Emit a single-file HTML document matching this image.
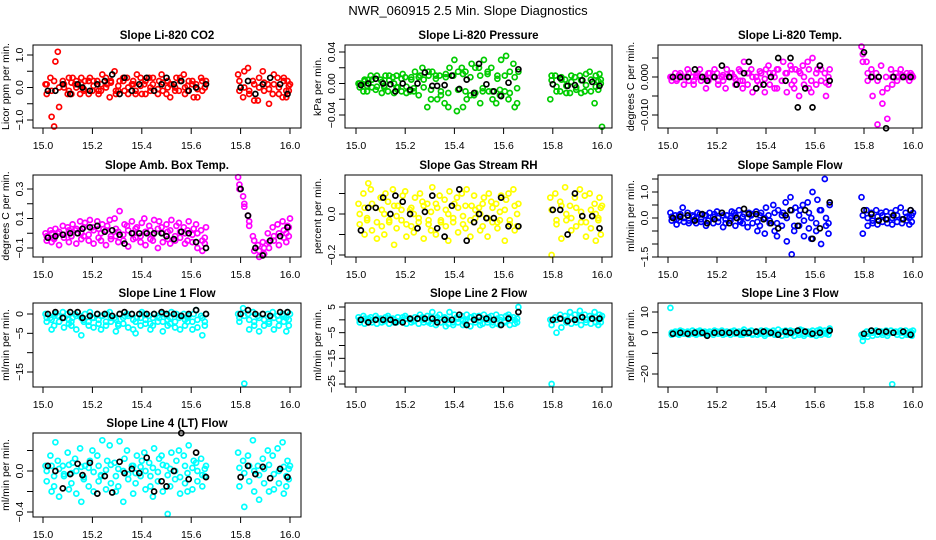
<!DOCTYPE html>
<html><head><meta charset="utf-8"><style>
html,body{margin:0;padding:0;background:#fff;}
svg{display:block;font-family:"Liberation Sans",sans-serif;}
</style></head><body>
<svg id="chart" width="936" height="540" viewBox="0 0 936 540" xmlns="http://www.w3.org/2000/svg">
<rect x="0" y="0" width="936" height="540" fill="#fff"/>
<text x="468" y="15" font-size="13" text-anchor="middle">NWR_060915  2.5 Min. Slope Diagnostics</text>
</svg>
<script>
const colorTimes=[15.01,15.03,15.05,15.06,15.08,15.10,15.12,15.13,15.15,15.17,15.19,15.20,15.22,15.24,15.26,15.27,15.29,15.31,15.33,15.34,15.36,15.38,15.40,15.41,15.43,15.45,15.47,15.48,15.50,15.52,15.54,15.55,15.57,15.59,15.61,15.62,15.64,15.66,15.79,15.81,15.83,15.85,15.87,15.89,15.91,15.93,15.95,15.97,15.99,16.0];
const colorTimes2=[15.015,15.035,15.045,15.065,15.085,15.105,15.115,15.135,15.155,15.165,15.185,15.205,15.225,15.235,15.255,15.275,15.295,15.305,15.325,15.345,15.365,15.375,15.395,15.415,15.435,15.445,15.465,15.485,15.505,15.515,15.535,15.555,15.575,15.585,15.605,15.625,15.645,15.655,15.795,15.815,15.835,15.855,15.875,15.895,15.915,15.935,15.955,15.975,15.985,15.995];
const blackTimes=[15.02,15.05,15.08,15.11,15.14,15.16,15.19,15.22,15.25,15.28,15.31,15.33,15.36,15.39,15.42,15.45,15.48,15.50,15.53,15.56,15.59,15.62,15.66,15.80,15.83,15.86,15.89,15.92,15.96,15.99];
const xTicks=[15.0,15.2,15.4,15.6,15.8,16.0];
const xTickLabels=["15.0","15.2","15.4","15.6","15.8","16.0"];

const co2A=[0.1,0.3,0.8,1.1,0.2,-0.2,0.3,0.1,-0.2,0.2,0.3,-0.1,0.2,0.4,0.1,-0.3,0.5,0.2,-0.1,0.3,0.1,0.4,-0.2,0.1,0.3,-0.1,0.2,0.4,-0.2,0.1,0.3,-0.1,0.4,0.2,-0.3,0.1,0.3,0.2,0.4,-0.3,0.6,0.2,-0.4,0.5,0.1,-0.2,0.3,-0.3,0.2,0.1];
const co2B=[-0.2,-0.9,-1.2,-0.6,0.0,0.3,-0.2,0.2,0.3,-0.1,-0.2,0.2,-0.2,-0.1,0.3,0.2,-0.2,-0.1,0.3,-0.2,0.2,-0.2,0.3,-0.2,-0.1,0.3,-0.2,-0.1,0.2,-0.3,0.0,0.3,-0.2,-0.1,0.2,-0.3,-0.1,0.0,-0.1,0.5,-0.2,-0.4,0.3,-0.1,-0.5,0.4,-0.2,0.3,-0.3,-0.1];
const co2C=[0.1,-0.1,0.2,0,0.1,-0.1,0.15,0,0.1,-0.05,0.2,0.05,-0.1,0.1,0,0.15,-0.1,0.05,0.2,0,0.1,-0.1,0.05,0.2,0,0.1,-0.05,0.15,0,0.1,-0.1,0.2,0,0.05,0.1,-0.05,0.2,0,0.2,0,-0.1,0.1,0,0.15,-0.05,0.1,0,0.2,-0.1,0.05];
const co2K=[-0.1,-0.1,0.1,-0.2,0.1,0.0,-0.1,0.1,0.2,0.4,-0.2,0.3,-0.1,0.1,0.3,-0.1,0.1,0.3,0.1,0.2,-0.1,0.0,0.1,0.0,0.2,-0.2,0.1,0.3,0.1,-0.2];

const presA=[0,-0.01,0.005,0.01,-0.008,0.005,0.01,-0.01,0.008,-0.005,0.012,0.008,-0.01,0.015,0.01,0.02,-0.03,0.015,-0.02,0.01,-0.025,0.02,0.03,-0.035,0.02,-0.02,0.025,-0.015,0.02,0.03,-0.01,0.02,-0.025,0.03,0.035,-0.02,0.025,0.015,-0.02,0.01,-0.01,0.005,-0.012,0.008,0.01,-0.01,0.015,-0.025,0.012,-0.055];
const presB=[-0.005,0.005,-0.01,-0.005,0.01,-0.012,-0.005,0.01,-0.012,0.01,-0.01,-0.012,0.008,-0.01,-0.015,0.005,0.015,-0.02,0.01,-0.015,0.012,-0.03,0.01,0.015,-0.03,0.015,-0.015,0.02,-0.025,-0.01,0.015,-0.02,0.01,-0.015,-0.01,0.015,-0.03,-0.025,0.01,-0.01,0.008,-0.012,0.01,-0.008,-0.012,0.012,-0.01,0.01,-0.008,0.005];
const presC=[0,0.003,-0.003,0.005,-0.004,0.002,-0.003,0.004,0,-0.005,0.006,-0.004,0.005,-0.006,0.008,-0.005,0.01,-0.008,0.006,-0.01,0.008,-0.012,0.01,-0.008,0.012,-0.01,0.008,-0.012,0.01,-0.006,0.012,-0.01,0.006,-0.008,0.01,-0.012,0.008,-0.006,0.004,-0.004,0.005,-0.003,0.002,-0.005,0.004,-0.002,0.005,-0.004,0.003,0];
const presK=[-0.002,0,0.006,0,-0.001,-0.01,0,-0.008,0,0.014,-0.003,-0.003,-0.002,0.01,-0.007,0.005,-0.012,0.025,-0.001,-0.01,-0.016,0.001,0.018,-0.001,0.007,-0.003,-0.002,0.004,0.002,-0.003];

const tempA=[0,0.001,0.001,0,0.002,0,0.001,0.002,0,0.001,0.002,0.001,0,0.002,0.001,0,0.002,0.004,0.001,0.002,0,0.001,0.002,0.003,0.001,0.002,0.004,0.001,0.003,0.002,0.001,0.003,0.004,0.005,0.002,0.003,0.001,0.002,0.008,0.004,0.002,0.001,0.003,0,0.002,0.001,0.002,0,0.001,0];
const tempB=[-0.001,-0.001,0,-0.002,-0.001,-0.002,0,-0.001,-0.003,-0.001,0,-0.002,-0.001,-0.003,0,-0.002,-0.001,-0.003,-0.002,-0.004,-0.001,-0.002,-0.004,-0.002,-0.003,-0.003,-0.001,-0.004,-0.002,-0.003,-0.005,-0.002,-0.003,-0.004,-0.002,-0.001,-0.005,-0.002,0.006,-0.001,-0.005,-0.0125,-0.007,-0.011,-0.002,-0.001,0,0.001,-0.001,0];
const tempC=[0,-0.0005,0.0005,0,0.001,-0.001,0.0005,0,-0.0005,0.001,0,-0.001,0.0005,0,0.001,-0.0005,0.0015,-0.001,0.001,0,-0.001,0.0015,-0.0005,0.001,0,0.002,-0.001,0.001,0.002,-0.001,0.0015,0,0.002,-0.001,0.001,0.002,-0.0015,0,0.004,0.001,0,-0.001,-0.004,-0.003,0,0,0.0005,0,0,0.0005];
const tempK=[0,0,0,0.002,0,-0.001,0,0.003,0,-0.002,0.001,0.004,-0.003,-0.002,0,0.005,-0.001,0.005,-0.008,-0.003,-0.008,0.003,-0.001,0.0065,0,0,-0.0135,0,0,0];

const ambA=[0.0,0.02,0.03,0.0,0.05,0.04,0.06,0.02,0.08,0.07,0.09,0.04,0.08,0.06,0.05,0.09,0.1,0.15,0.06,0.05,0.08,0.04,0.07,0.1,0.05,0.09,0.08,0.04,0.06,0.09,0.05,0.07,0.04,0.08,0.03,0.06,0.02,0.04,0.38,0.25,0.12,-0.02,-0.08,-0.06,0.0,0.04,0.06,0.08,0.05,0.1];
const ambB=[-0.05,-0.06,-0.04,-0.08,-0.03,-0.06,-0.02,-0.07,-0.04,-0.02,-0.05,-0.07,-0.03,-0.05,-0.08,-0.04,-0.02,-0.06,-0.05,-0.09,-0.04,-0.03,-0.06,-0.08,-0.04,-0.05,-0.1,-0.06,-0.04,-0.07,-0.05,-0.03,-0.07,-0.05,-0.06,-0.1,-0.12,-0.07,0.3,0.2,0.05,-0.12,-0.16,-0.14,-0.1,-0.05,-0.08,-0.03,-0.06,-0.02];
const ambC=[-0.02,0.0,-0.03,0.01,-0.01,0.02,-0.02,0.03,0.0,0.04,-0.01,0.02,0.03,0.0,0.02,-0.02,0.03,0.01,-0.01,0.02,0.0,0.03,-0.02,0.01,0.02,-0.01,0.03,0.0,0.01,0.02,-0.02,0.01,0.0,0.02,-0.01,0.0,-0.05,-0.03,0.33,0.18,0.08,-0.05,-0.12,-0.1,-0.06,-0.02,0.0,0.02,0.0,0.04];
const ambK=[-0.03,-0.02,-0.01,0.0,0.0,0.03,0.04,0.05,0.01,0.02,-0.01,-0.07,0.0,0.0,0.0,0.0,0.0,-0.02,-0.04,0.01,0.0,-0.06,-0.1,0.3,0.12,-0.1,-0.15,-0.05,-0.02,0.04];

const rhA=[0.05,0.1,0.15,0.12,0.03,0.08,0.1,0.06,0.12,0.04,0.09,0.11,0.02,0.08,0.1,0.06,0.05,0.13,0.03,0.09,0.07,0.11,0.05,0.08,0.1,0.12,0.04,0.09,0.03,0.08,0.1,0.06,0.05,0.09,0.07,0.1,0.12,0.05,0.08,0.1,0.06,0.13,0.04,0.08,0.12,0.09,0.1,0.05,0.08,0.04];
const rhB=[-0.05,-0.1,-0.03,-0.08,-0.12,-0.06,-0.1,-0.04,-0.15,-0.07,-0.03,-0.11,-0.06,-0.09,-0.04,-0.12,-0.05,-0.08,-0.1,-0.03,-0.06,-0.13,-0.04,-0.09,-0.05,-0.07,-0.11,-0.02,-0.08,-0.06,-0.11,-0.04,-0.07,-0.03,-0.13,-0.05,-0.08,-0.06,-0.2,-0.05,-0.12,-0.03,-0.08,-0.06,-0.04,-0.11,-0.07,-0.13,-0.03,-0.1];
const rhC=[0.0,0.03,-0.02,0.05,-0.04,0.02,0.0,-0.03,0.04,-0.01,0.02,-0.05,0.03,0.0,-0.02,0.04,-0.03,0.01,0.05,-0.04,0.02,0.0,-0.02,0.03,-0.01,0.04,-0.03,0.02,0.0,0.05,-0.02,0.03,-0.04,0.01,0.02,-0.03,0.04,0.0,0.02,-0.03,0.04,0.0,-0.02,0.03,0.01,-0.04,0.02,0.0,-0.02,0.03];
const rhK=[-0.08,0.03,0.03,0.08,0.0,0.09,0.06,0.0,-0.07,0.01,0.09,-0.07,-0.11,0.04,0.12,-0.13,-0.04,0.0,-0.02,-0.02,0.08,-0.06,-0.06,0.02,0.02,-0.1,0.1,-0.01,-0.01,-0.07];

const sfA=[0.2,0.1,0.15,0.4,0.2,0.1,0.2,0.15,0.1,0.2,0.15,0.25,0.2,0.1,0.25,0.2,0.3,0.15,0.2,0.1,0.25,0.2,0.4,0.1,0.5,0.3,0.2,0.6,0.8,0.4,0.3,0.5,0.6,1.0,0.7,0.3,1.5,0.5,0.8,0.3,0.2,0.3,0.2,0.25,0.2,0.3,0.4,0.2,0.3,0.2];
const sfB=[-0.1,-0.25,-0.1,-0.15,-0.2,-0.1,-0.2,-0.15,-0.3,-0.1,-0.2,-0.15,-0.35,-0.2,-0.1,-0.3,-0.15,-0.2,-0.35,-0.2,-0.5,-0.3,-0.6,-0.2,-0.5,-0.7,-0.3,-0.9,-1.4,-0.5,-0.3,-0.7,-0.4,-0.8,-0.5,-1.0,-0.3,-0.6,-0.6,-0.3,-0.2,-0.25,-0.15,-0.2,-0.25,-0.15,-0.2,-0.1,-0.25,-0.15];
const sfC=[0.05,-0.05,0.1,0.0,-0.1,0.05,0.0,-0.05,0.1,-0.1,0.05,0.0,0.1,-0.05,0.0,0.1,-0.1,0.05,0.0,0.15,-0.15,0.1,0.0,-0.1,0.2,-0.2,0.1,0.0,0.3,-0.3,0.1,-0.1,0.2,0.0,-0.2,0.3,0.0,-0.2,0.1,0.0,-0.1,0.05,0.1,-0.05,0.0,0.1,-0.05,0.05,0.0,0.1];
const sfK=[0.0,0.05,0.1,-0.1,0.15,-0.2,-0.05,0.2,-0.2,0.0,0.35,0.15,0.15,-0.05,-0.2,-0.4,0.1,0.3,-0.3,0.3,-0.8,-0.4,0.6,0.3,0.15,-0.1,-0.05,0.1,-0.05,0.3];

const l1A=[0,-1,0,-0.5,0.5,0,-1,0,-0.5,0,0.5,-1,0,-0.5,0,0.5,-1,0,-0.5,0,0,-1,0.5,0,-0.5,0,-1,0,-0.5,0.5,0,-1,0,-0.5,0,1,-0.5,0,0,1.5,0,0.5,-0.5,0,0,0.5,-0.5,0,0.5,0];
const l1B=[-2,-4,-3,-2,-3.5,-2.5,-3,-4,-5.5,-2,-3,-3.5,-2.5,-4,-3,-2,-4.5,-3,-2.5,-3.5,-4,-5,-3,-2.5,-4,-3,-2,-4.5,-3,-2.5,-3.5,-4,-3,-2,-4,-3.5,-5.5,-3,-2,-18,-4,-3,-4.5,-3,-2.5,-4,-3,-2,-4.5,-3];
const l1C=[-1,-1.5,-0.5,-2,-1,-1.5,-2,-0.5,-1,-1.5,-2,-1,-1.5,-0.5,-2,-1,-1.5,-2.5,-1,-0.5,-1.5,-2,-1,-1.5,-2.5,-1,-0.5,-2,-1.5,-1,-2,-0.5,-1.5,-1,-2,-1.5,-1,-2,-1,-0.5,-1.5,-2,-1,-1.5,-2,-1,-1.5,-0.5,-1,-1.5];
const l1K=[0,0.5,-1,0.5,0.5,-1,-0.5,0,0,-0.5,0,0.5,0,0,0,0,0.5,0,0,-0.5,0,1,0,0,1,0,0,-0.5,0.5,0.5];

const l2A=[1,1.5,0.5,1,1.5,0.5,1,1.5,0.5,1,1,1.5,0.5,1,2,1,1.5,3,1,2,1,3,2,1,1.5,2,1,1.5,1.5,2,1,1.5,2,1,1.5,2,1,5,0,1,2,1.5,3,2,3.5,2,1.5,3,2,1.5];
const l2B=[-1,-1.5,-0.5,-1,-1.5,-1,-0.5,-1.5,-1,-1,-0.5,-1.5,-1,-0.5,-1.5,-1,-1,-1.5,-2,-1,-2.5,-1.5,-2,-1,-2,-1.5,-2.5,-1,-2,-1.5,-1,-2,-1.5,-2,-1,-2,-1.5,-1,-25,-5,-3,-1,-1.5,-1,-2,-1,-1.5,-1,-2,-1];
const l2C=[0,0.5,-0.5,0,0.5,0,-0.5,0.5,0,-0.5,0,0.5,0,-0.5,0.5,0,-0.5,1,0,-1,0.5,0,-1,0.5,0,-0.5,1,0,-0.5,0.5,0,-1,0.5,0,-0.5,1,0,0.5,-2,0,0.5,0,1,0,1.5,0,0.5,1,0,0.5];
const l2K=[0,-1,0,0,0,-1,-1,0.5,0.5,0.5,0.5,-1,0,0,2,-2,0,1,0.5,0,-2,0.5,3,0,0.5,-0.5,0,1,0.5,0.5];

const l3A=[12,0.5,1,0.5,0.5,1,0.5,1,0.5,0.5,1,0.5,1,0.5,0.5,1,0.5,1.5,0.5,1,0.5,1,1,0.5,1,1.5,0.5,1,1,0.5,1.5,1,0.5,1,1,1.5,1,2,-1,0.5,1,1,0.5,1,1,0.5,1,1,0.5,1];
const l3B=[-1,-0.5,-1,-0.5,-1,-0.5,-1,-0.5,-1,-0.5,-1,-0.5,-1,-0.5,-1,-0.5,-1,-1,-0.5,-1,-1,-0.5,-1.5,-0.5,-1,-1,-1.5,-1,-0.5,-1.5,-1,-1.5,-0.5,-1,-1.5,-1,-0.5,-1,-4,-2,-1.5,-1,-1,-1.5,-25,-1,-1.5,-1,-1,-1.5];
const l3C=[0,0.3,-0.3,0,0.3,0,-0.3,0.3,0,-0.3,0,0.3,0,-0.3,0.3,0,-0.3,0.5,0,-0.5,0.3,0,-0.5,0.3,0,-0.3,0.5,0,-0.3,0.5,0,-0.5,0.3,0,-0.3,0.5,0,0.5,-2,-0.5,0,0.3,0,-0.3,0,0.3,0,-0.3,0,0];
const l3K=[-0.5,0,-0.5,0,0,-1.5,0,0,0,0,0,0,0.5,0.5,0,-1,0.5,0,1,0.5,-0.5,0,1,-0.5,1,0.5,0.5,0,0.5,-1];

const l4A=[0.05,0.15,0.28,0.1,0.05,0.18,0.08,0.12,0.22,0.05,0.1,0.2,0.15,0.3,0.1,0.25,0.08,0.29,0.12,0.2,0.05,0.15,0.1,0.18,0.08,0.22,0.12,0.15,0.05,0.18,0.1,0.2,0.15,0.25,0.1,0.08,0.12,0.05,0.18,0.1,0.15,0.3,0.05,0.12,0.2,0.15,0.22,0.28,0.1,0.05];
const l4B=[-0.1,-0.2,-0.15,-0.25,-0.05,-0.18,-0.12,-0.22,-0.3,-0.08,-0.15,-0.2,-0.1,-0.05,-0.18,-0.12,-0.2,-0.15,-0.3,-0.08,-0.22,-0.12,-0.05,-0.18,-0.15,-0.25,-0.1,-0.2,-0.42,-0.15,-0.08,-0.22,-0.12,-0.2,-0.18,-0.1,-0.15,-0.05,-0.15,-0.35,-0.1,-0.2,-0.28,-0.12,-0.2,-0.18,-0.12,-0.22,-0.15,-0.08];
const l4C=[0.0,0.05,-0.05,0.02,-0.03,0.06,-0.02,0.0,0.04,-0.06,0.03,-0.01,0.05,-0.04,0.01,0.06,-0.05,0.02,0.0,-0.03,0.05,-0.02,0.04,0.0,-0.05,0.03,-0.01,0.06,-0.04,0.02,0.0,-0.06,0.05,-0.02,0.03,0.0,-0.04,0.02,0.03,-0.02,0.05,0.0,-0.04,0.02,0.06,-0.03,0.0,0.04,-0.05,0.02];
const l4K=[0.05,0.0,-0.17,-0.03,0.07,-0.04,0.08,-0.22,-0.05,-0.21,0.09,-0.02,0.02,-0.02,0.13,-0.2,-0.1,-0.15,0.0,0.37,-0.08,0.18,-0.06,-0.06,0.05,-0.03,0.04,-0.07,0.02,-0.06];

const cols=[{l:33,r:301,x0:43,x1:290},{l:345,r:612,x0:356,x1:602},{l:658,r:922,x0:668,x1:913}];
const rows=[{t:45,b:128},{t:175,b:257},{t:303,b:387},{t:433,b:517}];
const panels=[
 {name:"co2",title:"Slope Li-820 CO2",ylab:"Licor ppm per min.",c:0,r:0,color:"#ff0000",a:co2A,b:co2B,cc:co2C,k:co2K,v0:0,p0:87.5,v1:1,p1:55,ticks:[-1,-0.5,0,0.5,1],labels:{"-1":"\u22121.0","0":"0.0","1":"1.0"}},
 {name:"pressure",title:"Slope Li-820 Pressure",ylab:"kPa per min.",c:1,r:0,color:"#00cc00",a:presA,b:presB,cc:presC,k:presK,v0:0,p0:83.5,v1:0.04,p1:52,ticks:[-0.04,-0.02,0,0.02,0.04],labels:{"-0.04":"\u22120.04","0":"0.00","0.04":"0.04"}},
 {name:"temp",title:"Slope Li-820 Temp.",ylab:"degrees C per min.",c:2,r:0,color:"#ff00ff",a:tempA,b:tempB,cc:tempC,k:tempK,v0:0,p0:77,v1:-0.01,p1:115,ticks:[-0.01,-0.005,0,0.005],labels:{"-0.01":"\u22120.010","0":"0.000"}},
 {name:"amb-box-temp",title:"Slope Amb. Box Temp.",ylab:"degrees C per min.",c:0,r:1,color:"#ff00ff",a:ambA,b:ambB,cc:ambC,k:ambK,v0:0.3,p0:189,v1:-0.1,p1:248,ticks:[-0.1,0,0.1,0.2,0.3],labels:{"-0.1":"\u22120.1","0.1":"0.1","0.3":"0.3"}},
 {name:"gas-stream-rh",title:"Slope Gas Stream RH",ylab:"percent per min.",c:1,r:1,color:"#ffff00",a:rhA,b:rhB,cc:rhC,k:rhK,v0:0,p0:214,v1:-0.2,p1:255,ticks:[-0.2,-0.1,0,0.1],labels:{"-0.2":"\u22120.2","0":"0.0"}},
 {name:"sample-flow",title:"Slope Sample Flow",ylab:"ml/min per min.",c:2,r:1,color:"#0000ff",a:sfA,b:sfB,cc:sfC,k:sfK,v0:0,p0:218,v1:1,p1:192,ticks:[-1.5,-1,-0.5,0,0.5,1,1.5],labels:{"-1.5":"\u22121.5","0":"0.0","1":"1.0"}},
 {name:"line1-flow",title:"Slope Line 1 Flow",ylab:"ml/min per min.",c:0,r:2,color:"#00ffff",a:l1A,b:l1B,cc:l1C,k:l1K,v0:0,p0:314,v1:-15,p1:372,ticks:[-15,-10,-5,0],labels:{"-15":"\u221215","-5":"\u22125","0":"0"}},
 {name:"line2-flow",title:"Slope Line 2 Flow",ylab:"ml/min per min.",c:1,r:2,color:"#00ffff",a:l2A,b:l2B,cc:l2C,k:l2K,v0:5,p0:307,v1:-25,p1:384,ticks:[-25,-20,-15,-10,-5,0,5],labels:{"-25":"\u221225","-15":"\u221215","-5":"\u22125","5":"5"}},
 {name:"line3-flow",title:"Slope Line 3 Flow",ylab:"ml/min per min.",c:2,r:2,color:"#00ffff",a:l3A,b:l3B,cc:l3C,k:l3K,v0:10,p0:312,v1:-20,p1:374,ticks:[-20,-10,0,10],labels:{"-20":"\u221220","0":"0","10":"10"}},
 {name:"line4-flow",title:"Slope Line 4 (LT) Flow",ylab:"ml/min per min.",c:0,r:3,color:"#00ffff",a:l4A,b:l4B,cc:l4C,k:l4K,v0:0,p0:471,v1:-0.4,p1:512,ticks:[-0.4,-0.2,0,0.2],labels:{"-0.4":"\u22120.4","0":"0.0"}}
];
const NS="http://www.w3.org/2000/svg";
const svg=document.getElementById("chart");
function mk(tag,attrs,parent){const e=document.createElementNS(NS,tag);for(const k in attrs)e.setAttribute(k,attrs[k]);(parent||svg).appendChild(e);return e;}
panels.forEach(p=>{
 const col=cols[p.c],row=rows[p.r];
 const xs=v=>col.x0+(v-15)*(col.x1-col.x0);
 const ys=v=>p.p0+(v-p.v0)*(p.p1-p.p0)/(p.v1-p.v0);
 const g=mk("g",{});
 
 
 const title=mk("text",{x:(col.l+col.r)/2,y:row.t-6,"font-size":"11.5","font-weight":"bold","text-anchor":"middle"},g);
 title.textContent=p.title;
 
 
 const pts=mk("g",{fill:"none","stroke-width":"1.7"},g);
 
 
 [[p.a,colorTimes],[p.b,colorTimes2],[p.cc,colorTimes2]].forEach(([arr,times])=>arr.forEach((v,i)=>{
  const c=mk("circle",{cx:xs(times[i]).toFixed(1),cy:ys(v).toFixed(1),r:"2.5",stroke:p.color},pts);
  
  
 }));
 p.k.forEach((v,i)=>{
  const c=mk("circle",{cx:xs(blackTimes[i]).toFixed(1),cy:ys(v).toFixed(1),r:"2.5",stroke:"#000"},pts);
  
  
 });
 const box=mk("rect",{x:col.l,y:row.t,width:col.r-col.l,height:row.b-row.t,fill:"none",stroke:"#000","stroke-width":"1"},g);
 
 
 const xa=mk("g",{},g);
 
 
 mk("line",{x1:xs(15),x2:xs(16),y1:row.b,y2:row.b,stroke:"#000"},xa);
 xTicks.forEach((t,i)=>{
  const x=xs(t);
  mk("line",{x1:x,x2:x,y1:row.b,y2:row.b+6,stroke:"#000"},xa);
  const tl=mk("text",{x:x,y:row.b+21,"font-size":"10.5","text-anchor":"middle"},xa);
  tl.textContent=xTickLabels[i];
 });
 const ya=mk("g",{},g);
 
 
 p.ticks.forEach(t=>{
  const y=ys(t);
  mk("line",{x1:col.l-6,x2:col.l,y1:y,y2:y,stroke:"#000"},ya);
  const lab=p.labels[String(t)];
  if(lab){
   const tx=col.l-10;
   const tl=mk("text",{x:tx,y:y,"font-size":"10.5","text-anchor":"middle",transform:`rotate(-90 ${tx} ${y})`},ya);
   tl.textContent=lab;
  }
 });
 const ax=col.l-24,ay=(row.t+row.b)/2;
 const yl=mk("text",{x:ax,y:ay,"font-size":"10.5","text-anchor":"middle",transform:`rotate(-90 ${ax} ${ay})`},g);
 yl.textContent=p.ylab;
 
 
});
</script>
</body></html>
